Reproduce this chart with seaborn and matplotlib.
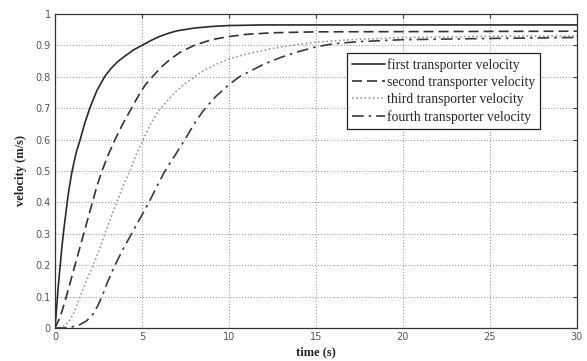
import pandas as pd
import matplotlib
matplotlib.use('Agg')
import matplotlib.pyplot as plt
import seaborn as sns

# Values (time in s, velocity in m/s)
t_first = [0, 0.1, 0.2, 0.3, 0.4, 0.5, 0.6, 0.7, 0.8, 0.95, 1.1, 1.25, 1.45, 1.7, 2.0, 2.4, 2.85,
           3.2, 3.6, 4.0, 4.5, 5.0, 5.5, 6.0, 6.5, 7.0, 8.0, 9.0, 10.0, 12.0, 30.0]
v_first = [0, 0.07, 0.14, 0.20, 0.26, 0.31, 0.355, 0.40, 0.44, 0.49, 0.53, 0.565, 0.60, 0.65, 0.70, 0.755, 0.80,
           0.825, 0.848, 0.865, 0.885, 0.90, 0.915, 0.928, 0.938, 0.946, 0.955, 0.96, 0.963, 0.965, 0.965]

t_second = [0, 0.3, 0.6, 0.9, 1.15, 1.4, 1.65, 1.9, 2.15, 2.4, 2.7, 3.05, 3.45, 3.9, 4.4, 4.8, 5.2,
            5.6, 6.1, 6.6, 7.2, 8.0, 9.0, 10.0, 11.0, 12.5, 15.0, 30.0]
v_second = [0, 0.035, 0.09, 0.15, 0.20, 0.25, 0.30, 0.35, 0.40, 0.45, 0.50, 0.55, 0.60, 0.65, 0.70, 0.74, 0.775,
            0.80, 0.83, 0.855, 0.878, 0.90, 0.918, 0.928, 0.935, 0.94, 0.943, 0.945]

t_third = [0, 0.4, 0.8, 1.1, 1.45, 1.8, 2.2, 2.55, 2.87, 3.2, 3.55, 3.9, 4.3, 4.65, 5.07, 5.5, 6.0,
           6.4, 6.9, 7.4, 7.9, 8.5, 9.2, 10.0, 11.0, 12.5, 14.0, 15.0, 17.0, 20.0, 25.0, 30.0]
v_third = [0, 0.002, 0.02, 0.05, 0.10, 0.15, 0.20, 0.25, 0.30, 0.35, 0.40, 0.45, 0.50, 0.55, 0.60, 0.65, 0.695,
           0.72, 0.75, 0.775, 0.795, 0.818, 0.838, 0.857, 0.872, 0.89, 0.903, 0.91, 0.918, 0.925, 0.929, 0.93]

t_fourth = [0, 0.5, 1.0, 1.4, 1.8, 2.2, 2.45, 2.7, 3.05, 3.45, 3.9, 4.4, 4.9, 5.4, 5.85, 6.32, 6.9,
            7.47, 8.0, 8.5, 9.2, 10.0, 10.6, 11.3, 12.0, 13.0, 14.0, 15.0, 16.0, 17.5, 20.0, 25.0, 30.0]
v_fourth = [0, 0.0, 0.004, 0.01, 0.022, 0.045, 0.07, 0.10, 0.15, 0.20, 0.25, 0.30, 0.35, 0.40, 0.45, 0.50, 0.55,
            0.60, 0.65, 0.69, 0.735, 0.775, 0.80, 0.82, 0.84, 0.862, 0.88, 0.895, 0.905, 0.912, 0.918, 0.922, 0.925]

labels = ['first transporter velocity', 'second transporter velocity',
          'third transporter velocity', 'fourth transporter velocity']
x_ticks = [0, 5, 10, 15, 20, 25, 30]
y_ticks = [0, 0.1, 0.2, 0.3, 0.4, 0.5, 0.6, 0.7, 0.8, 0.9, 1]

sns.set_style('white')

fig = plt.figure(figsize=(5.87, 3.61), dpi=100)
ax = fig.add_axes([0.0937, 0.0914, 0.889, 0.870])

series = [(t_first, v_first, '-', '#2a2a2a'),
          (t_second, v_second, (0, (6, 3)), '#333333'),
          (t_third, v_third, (0, (1, 1.5)), '#9a9a9a'),
          (t_fourth, v_fourth, (0, (7, 3, 1.5, 3)), '#3a3a3a')]

for (t, v, ls, c), lab in zip(series, labels):
    df = pd.DataFrame({'time': t, 'velocity': v})
    sns.lineplot(data=df, x='time', y='velocity', ax=ax, color=c,
                 linestyle=ls, linewidth=1.2, label=lab)

ax.set_xlim(0, 30)
ax.set_ylim(0, 1)
ax.set_xticks(x_ticks)
ax.set_xticklabels([str(x) for x in x_ticks])
ax.set_yticks(y_ticks)
ax.set_yticklabels(['0', '0.1', '0.2', '0.3', '0.4', '0.5', '0.6', '0.7', '0.8', '0.9', '1'])
ax.tick_params(direction='in', length=3, top=True, right=True,
               labelsize=7, labelcolor='#555555', color='#333333', pad=3)
ax.grid(True, linestyle=(0, (1, 2)), color='#888888', linewidth=0.7)
for s in ax.spines.values():
    s.set_color('#333333')
    s.set_linewidth(0.9)

ax.set_xlabel('time (s)', fontfamily='Liberation Serif', fontweight='bold', fontsize=9, labelpad=3)
ax.set_ylabel('velocity (m/s)', fontfamily='Liberation Serif', fontweight='bold', fontsize=9, labelpad=6)

leg = ax.legend(loc='upper left', bbox_to_anchor=(0.56, 0.875), frameon=True, fancybox=False,
                edgecolor='#222222', framealpha=1, handlelength=2.4, handletextpad=0.2,
                borderpad=0.35, labelspacing=0.3, borderaxespad=0,
                prop={'family': 'Liberation Serif', 'size': 9.8})
leg.get_frame().set_linewidth(0.9)

fig.savefig('out.png', dpi=100)
